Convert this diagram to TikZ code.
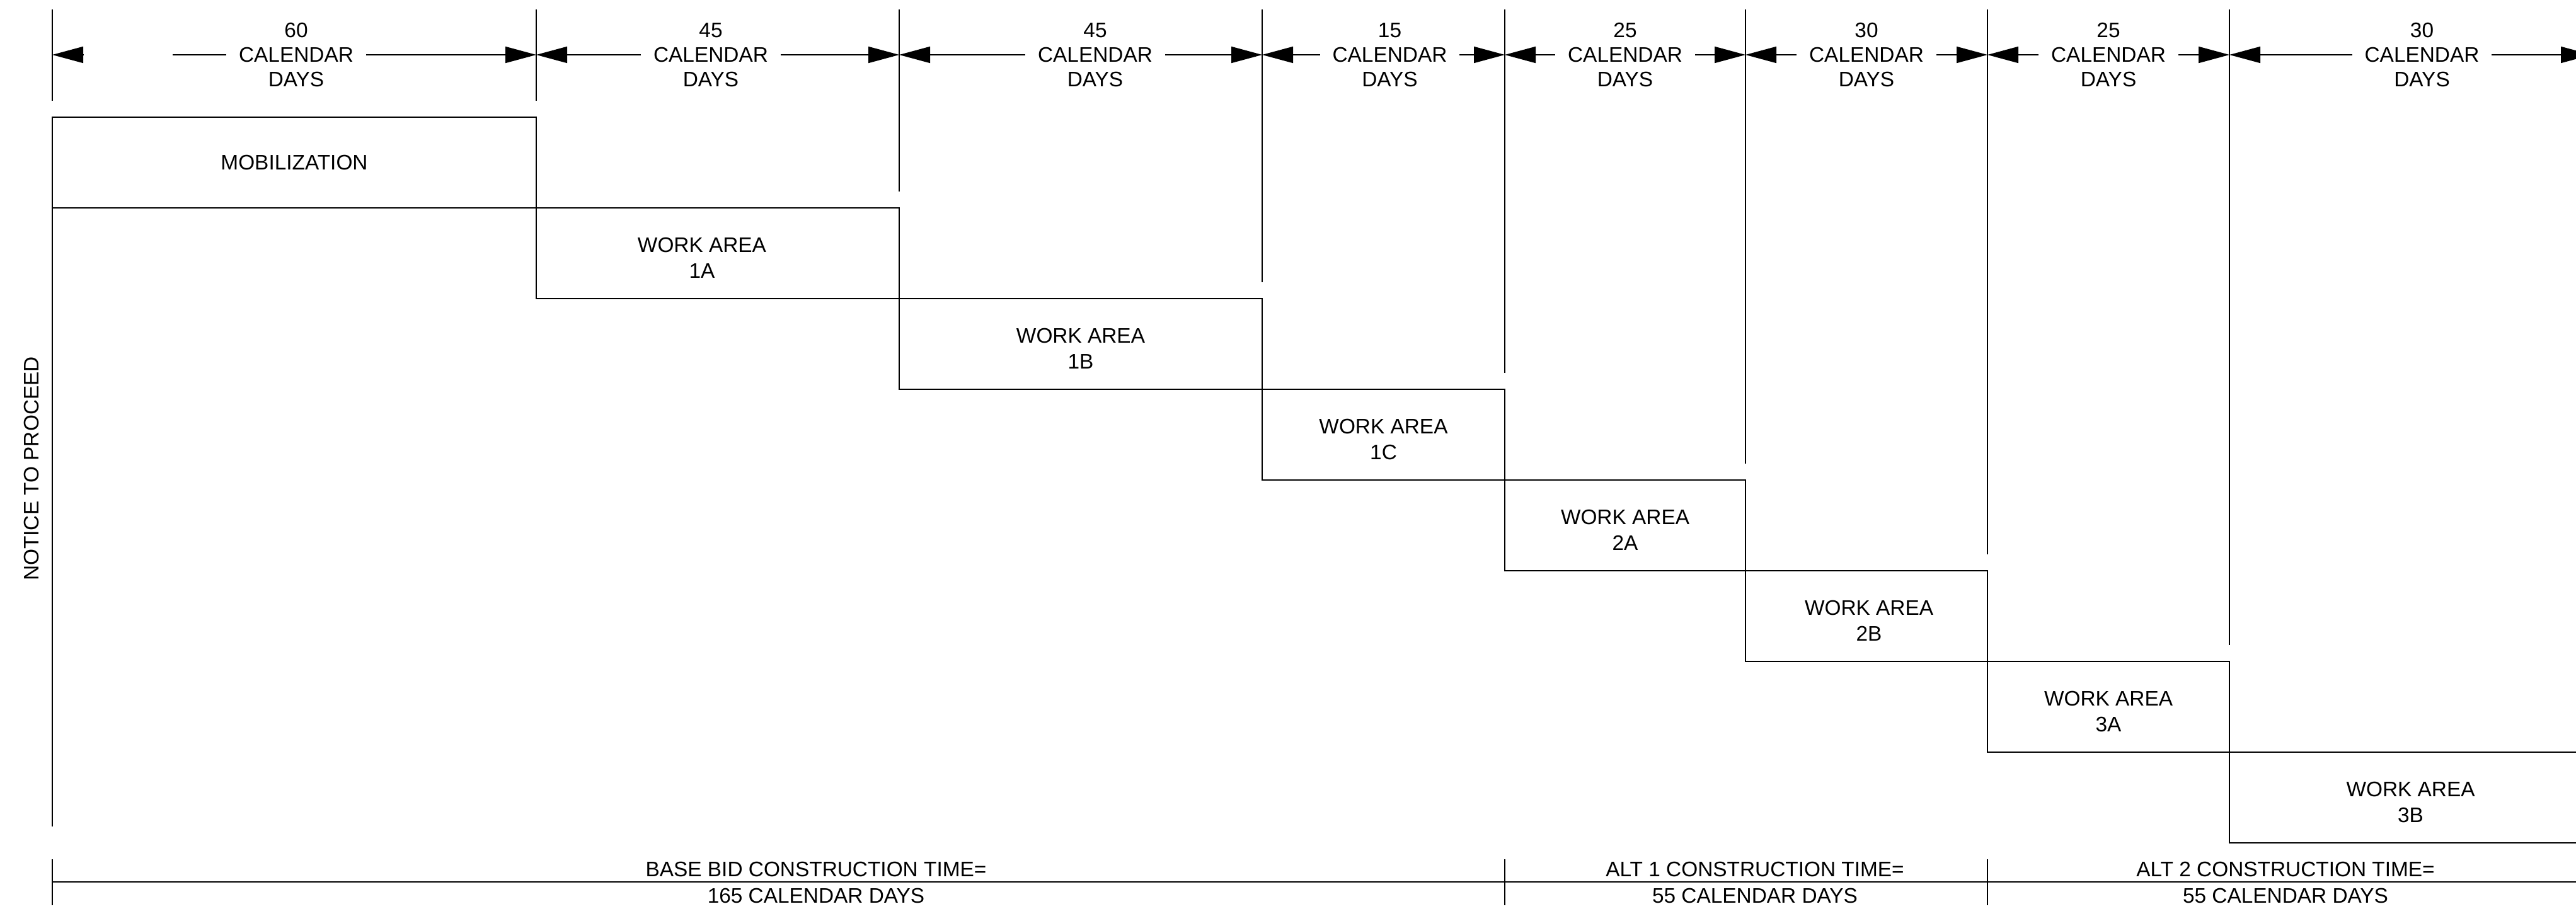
\documentclass[tikz,border=0pt]{standalone}
\usepackage{fontspec}
\setmainfont{Liberation Sans}
\usetikzlibrary{arrows.meta}

\tikzset{
  dimline/.style={{Triangle[length=0.49cm,width=0.26cm]}-{Triangle[length=0.49cm,width=0.26cm]}},
  dimtext/.style={fill=white, inner xsep=0.2cm, inner ysep=0pt, align=center},
  area/.style={draw, minimum height=1.44cm, inner sep=0pt, outer sep=0pt, anchor=north west, align=center},
  boxtext/.style={align=center, yshift=-0.075cm, font=\fontsize{9.5}{11.6}\selectfont}
}

\begin{document}
\begin{tikzpicture}[line width=0.5pt, font=\fontsize{9.5}{11.1}\selectfont]
        % Page frame
        \useasboundingbox (0,0) rectangle (40.88,14.42);
        \clip (0,0) rectangle (40.88,14.42);

        % Extension lines above the bars
        \foreach \x/\y in {0.83/12.82, 8.51/12.82, 14.27/11.38, 20.03/9.94, 23.88/8.50, 27.70/7.06, 31.54/5.62, 35.38/4.18}
            \draw (\x,14.27) -- (\x,\y);

        % Dimension line points
        \foreach \i/\x in {0/0.83, 1/8.51, 2/14.27, 3/20.03, 4/23.88, 5/27.70, 6/31.54, 7/35.38, 8/41.13}
            \coordinate (d\i) at (\x,13.55);
        \coordinate (tip) at (1.32,13.55);
        \coordinate (gap) at (2.74,13.55);

        % First dimension, line broken on the left
        \draw[-{Triangle[length=0.49cm,width=0.26cm]}] (tip) -- (d0);
        \draw[-{Triangle[length=0.49cm,width=0.26cm]}] (gap) -- (d1);
        \path (d0) -- (d1) node[midway, dimtext, xshift=0.03cm] (lab1) {60\\CALENDAR\\DAYS};

        % Other dimensions (text not always centred)
        \foreach \a/\b/\n/\s in {1/2/45/-0.11, 2/3/45/0.23, 3/4/15/0.10, 4/5/25/0, 5/6/30/0, 6/7/25/0, 7/8/30/0.18}
            \draw[dimline] (d\a) -- (d\b) node[midway, dimtext, xshift=\s cm] (lab\b) {\n\\CALENDAR\\DAYS};

        % Work area bars
        \node[area, minimum width=7.68cm] (mob) at (0.83,12.56) {MOBILIZATION};
        \node[area, minimum width=5.76cm, label={[boxtext, xshift=-0.25cm]center:{WORK AREA\\1A}}] (wa1a) at (8.51,11.12) {};
        \node[area, minimum width=5.76cm, label={[boxtext]center:{WORK AREA\\1B}}] (wa1b) at (14.27,9.68) {};
        \node[area, minimum width=3.85cm, label={[boxtext]center:{WORK AREA\\1C}}] (wa1c) at (20.03,8.24) {};
        \node[area, minimum width=3.82cm, label={[boxtext]center:{WORK AREA\\2A}}] (wa2a) at (23.88,6.80) {};
        \node[area, minimum width=3.84cm, label={[boxtext, xshift=0.04cm]center:{WORK AREA\\2B}}] (wa2b) at (27.70,5.36) {};
        \node[area, minimum width=3.84cm, label={[boxtext]center:{WORK AREA\\3A}}] (wa3a) at (31.54,3.92) {};
        \node[area, minimum width=5.75cm, label={[boxtext]center:{WORK AREA\\3B}}] (wa3b) at (35.38,2.48) {};

        % Notice to proceed
        \coordinate (ntpend) at (0.83,1.30);
        \draw (mob.south west) -- (ntpend);
        \node[rotate=90] (ntp) at (0.50,6.98) {NOTICE TO PROCEED};

        % Construction times
        \coordinate (t0) at (0.83,0.42);
        \coordinate (t1) at (23.88,0.42);
        \coordinate (t2) at (31.54,0.42);
        \coordinate (t3) at (41.13,0.42);
        \draw (t0) -- (t3);
        \foreach \t in {t0, t1, t2}
            \draw ([yshift=0.36cm]\t) -- ([yshift=-0.37cm]\t);

        \node (base) at (12.95,0.62) {BASE BID CONSTRUCTION TIME=};
        \node (basedays) at (12.95,0.20) {165 CALENDAR DAYS};
        \node (alt1) at (27.85,0.62) {ALT 1 CONSTRUCTION TIME=};
        \node (alt1days) at (27.85,0.20) {55 CALENDAR DAYS};
        \node (alt2) at (36.27,0.62) {ALT 2 CONSTRUCTION TIME=};
        \node (alt2days) at (36.27,0.20) {55 CALENDAR DAYS};
\end{tikzpicture}
\end{document}
